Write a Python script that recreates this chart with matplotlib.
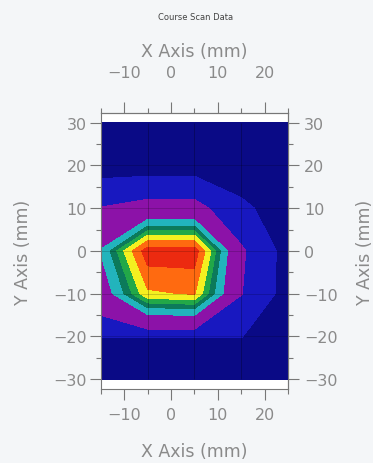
import numpy as np
import matplotlib.pyplot as plt
from matplotlib.ticker import MultipleLocator

# scan grid (mm) and measured signal on it, rows = y, cols = x
x_mm = [-15, -5, 5, 15, 25]
y_mm = [-30, -20, -10, 0, 10, 20, 30]
signal = [
    [0.0, 0.0, 0.0, 0.0, 0.0],
    [6.2, 6.2, 6.2, 6.2, 1.0],
    [32.0, 80.0, 83.0, 19.5, 1.0],
    [45.0, 100.0, 100.0, 21.0, 1.0],
    [19.5, 24.0, 24.0, 8.0, 1.0],
    [0.0, 0.0, 0.0, 0.0, 0.0],
    [0.0, 0.0, 0.0, 0.0, 0.0],
]
levels = [-1, 6, 19, 44, 56, 64, 72, 82, 93, 101]
band_colors = ['#0a0a86', '#1818c0', '#8c12a8', '#22b4bc', '#0c7a5a',
               '#22a848', '#f4f020', '#ff6a10', '#ec2a10']

title = 'Course Scan Data'
xlab = 'X Axis (mm)'
ylab = 'Y Axis (mm)'

txt = '#8a8a8a'
fig = plt.figure(figsize=(3.73, 4.64), dpi=100)
fig.patch.set_facecolor('#f4f6f8')
ax = fig.add_axes([0.27, 0.1595, 0.502, 0.595])
ax.set_facecolor('white')

X, Y = np.meshgrid(x_mm, y_mm)
ax.contourf(X, Y, np.array(signal), levels=levels, colors=band_colors)

# faint mesh lines through the inner scan points
ax.vlines(x_mm[1:-1], y_mm[0], y_mm[-1], colors='black', lw=0.6, alpha=0.3)
ax.hlines(y_mm[1:-1], x_mm[0], x_mm[-1], colors='black', lw=0.6, alpha=0.2)

ax.set_xlim(-15, 25)
ax.set_ylim(-32.3, 32.3)

def style(a, which, pad):
    a.tick_params(axis=which, which='major', direction='out', length=8,
                  width=0.8, colors='#777777', labelcolor=txt, labelsize=11.5, pad=pad)
    a.tick_params(axis=which, which='minor', direction='out', length=3.6,
                  width=0.8, colors='#777777')

ax.xaxis.set_major_locator(MultipleLocator(10))
ax.xaxis.set_minor_locator(MultipleLocator(5))
ax.yaxis.set_major_locator(MultipleLocator(10))
ax.yaxis.set_minor_locator(MultipleLocator(5))
style(ax, 'x', 5)
style(ax, 'y', 2)
ax.set_xlabel(xlab, color=txt, fontsize=12.5)
ax.set_ylabel(ylab, color=txt, fontsize=12.5)
ax.xaxis.set_label_coords(0.5, -0.225)
ax.xaxis.label.set_va('center')
ax.yaxis.set_label_coords(-0.415, 0.5)
ax.yaxis.label.set_va('center')
for s in ax.spines.values():
    s.set_color('#777777')
    s.set_linewidth(0.8)

top = ax.secondary_xaxis('top')
top.xaxis.set_major_locator(MultipleLocator(10))
top.xaxis.set_minor_locator(MultipleLocator(5))
style(top, 'x', 16)
top.set_xlabel(xlab, color=txt, fontsize=12.5)
top.xaxis.set_label_coords(0.5, 1.2246, transform=ax.transAxes)
top.xaxis.label.set_va('center')
top.spines['top'].set_color('#777777')

right = ax.secondary_yaxis('right')
right.yaxis.set_major_locator(MultipleLocator(10))
right.yaxis.set_minor_locator(MultipleLocator(5))
style(right, 'y', 3.5)
right.set_ylabel(ylab, color=txt, fontsize=12.5)
right.yaxis.set_label_coords(1.411, 0.5, transform=ax.transAxes)
right.yaxis.label.set_va('center')
right.spines['right'].set_color('#777777')

fig.text(0.525, 0.963, title, ha='center', va='center', fontsize=6, color='#444444')

fig.savefig('out.png', dpi=100, facecolor=fig.get_facecolor())
